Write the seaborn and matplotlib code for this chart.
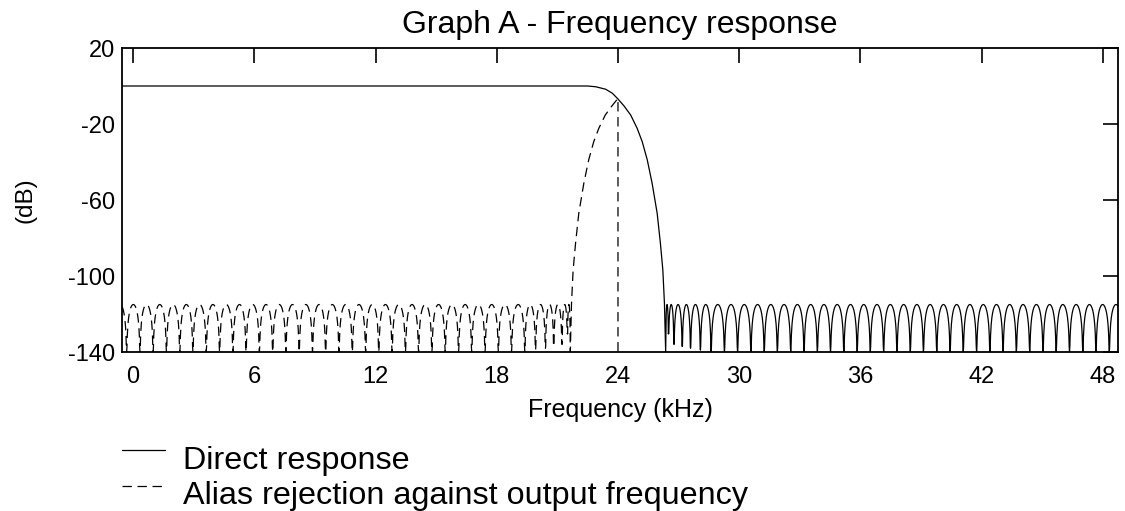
import numpy as np
import pandas as pd
import matplotlib
matplotlib.use("Agg")
import matplotlib.pyplot as plt
from matplotlib.lines import Line2D
import seaborn as sns

# ---------------- data ----------------
title = "Graph A - Frequency response"
x_label = "Frequency (kHz)"
y_label = "(dB)"
x_ticks = [0, 6, 12, 18, 24, 30, 36, 42, 48]
y_ticks = [20, -20, -60, -100, -140]
legend_labels = ["Direct response", "Alias rejection against output frequency"]

# Direct response: passband + transition band
direct_trans_khz = [-0.6, 22.5, 22.9, 23.39, 23.72, 23.97, 24.3, 24.63, 24.95,
                    25.2, 25.45, 25.69, 25.94, 26.1, 26.22, 26.3]
direct_trans_db = [0.0, 0.0, -0.4, -1.7, -3.8, -6.5, -10.5, -15.3, -22.3,
                   -29.3, -38.9, -51.2, -67.0, -82.8, -96.8, -114.4]
# Direct response: stopband lobe nulls and their depths
direct_null_khz = [26.36, 26.50, 26.77, 27.18, 27.59, 28.08, 28.61, 29.27, 29.92,
                   30.58, 31.24, 31.89, 32.55, 33.21, 33.87, 34.52, 35.18, 35.84,
                   36.49, 37.15, 37.81, 38.47, 39.12, 39.78, 40.44, 41.09, 41.75,
                   42.41, 43.06, 43.72, 44.38, 45.04, 45.69, 46.35, 47.01, 47.66,
                   48.32, 48.98]
direct_null_db = [-140, -130, -136, -137, -138, -139] + [-140] * 32

# Alias rejection: stopband lobe nulls and their depths
alias_null_khz = [-0.98, -0.32, 0.34, 0.99, 1.65, 2.31, 2.96, 3.62, 4.28, 4.94,
                  5.59, 6.25, 6.91, 7.56, 8.22, 8.88, 9.53, 10.19, 10.85, 11.51,
                  12.16, 12.82, 13.48, 14.13, 14.79, 15.45, 16.11, 16.76, 17.42,
                  18.08, 18.73, 19.39, 19.92, 20.41, 20.82, 21.23, 21.50, 21.64]
alias_null_db = [-140] * 32 + [-139, -138, -137, -136, -130, -140]
# Alias rejection: transition band up to 24 kHz, then drop
alias_trans_khz = [21.70, 21.78, 21.90, 22.06, 22.31, 22.55, 22.80, 23.05,
                   23.37, 23.70, 24.0, 24.0]
alias_trans_db = [-114.4, -96.8, -82.8, -67.0, -51.2, -38.9, -29.3, -22.3,
                  -15.3, -10.5, -6.5, -140.0]

stop_peak_db = -115.0
db_floor = -140.0


def lobes(nulls, depths, peak, n=40):
    """Draw arch-shaped ripple lobes between consecutive nulls."""
    xs, ys = [nulls[0]], [depths[0]]
    t = np.linspace(0, 1, n + 1)[1:]
    for a, b, da, db in zip(nulls[:-1], nulls[1:], depths[:-1], depths[1:]):
        arch = peak + 20 * np.log10(np.abs(np.sin(np.pi * t)) + 1e-12)
        floor = da + (db - da) * t
        xs.extend(a + (b - a) * t)
        ys.extend(np.maximum(np.maximum(arch, floor), db_floor))
    return xs, ys


lx, ly = lobes(direct_null_khz, direct_null_db, stop_peak_db)
direct_df = pd.DataFrame({"f": list(direct_trans_khz) + list(lx),
                          "db": list(direct_trans_db) + list(ly)})
ax_, ay_ = lobes(alias_null_khz, alias_null_db, stop_peak_db)
alias_df = pd.DataFrame({"f": list(ax_) + list(alias_trans_khz),
                         "db": list(ay_) + list(alias_trans_db)})

# ---------------- plotting ----------------
sns.set_theme(style="white")
plt.rcParams["font.family"] = ["Liberation Sans", "DejaVu Sans"]
plt.rcParams["axes.unicode_minus"] = False

W, H = 1125, 511
fig = plt.figure(figsize=(W / 100, H / 100), dpi=100)
L, R, T, B = 122, 1118, 48, 352
ax = fig.add_axes([L / W, 1 - B / H, (R - L) / W, (B - T) / H])

dash = (0, (7.5, 4.5))
sns.lineplot(data=direct_df, x="f", y="db", ax=ax, sort=False, estimator=None,
             color="black", linewidth=0.9)
sns.lineplot(data=alias_df, x="f", y="db", ax=ax, sort=False, estimator=None,
             color="black", linewidth=0.9, linestyle=dash)

ax.set_xlim(-0.55, 48.75)
ax.set_ylim(-140, 20)
ax.set_xticks(x_ticks)
ax.set_yticks(y_ticks)
ax.tick_params(direction="in", length=11, width=1.2, top=True, right=True,
               labelsize=17, colors="black")
ax.tick_params(axis="x", pad=10)
ax.tick_params(axis="y", pad=5)
for s in ax.spines.values():
    s.set_color("black")
    s.set_linewidth(1.3)

ax.set_title(title, fontsize=23, pad=11, color="black")
ax.set_xlabel(x_label, fontsize=18, color="black")
ax.set_ylabel(y_label, fontsize=17.5, color="black")
ax.xaxis.set_label_coords(0.5, -(398 - B) / (B - T))
ax.yaxis.set_label_coords(-(122 - 36) / (R - L), 0.5)

# legend below the axes
legend_rows = [(450, "-", 461), (486, dash, 496)]
for (ly_px, ls, ty_px), lab in zip(legend_rows, legend_labels):
    fig.add_artist(Line2D([122 / W, 165 / W], [1 - ly_px / H, 1 - ly_px / H],
                          transform=fig.transFigure, color="black",
                          linewidth=0.9, linestyle=ls))
    fig.text(183 / W, 1 - ty_px / H, lab, fontsize=23.3, va="center",
             ha="left", color="black")

fig.savefig("out.png", dpi=100)
